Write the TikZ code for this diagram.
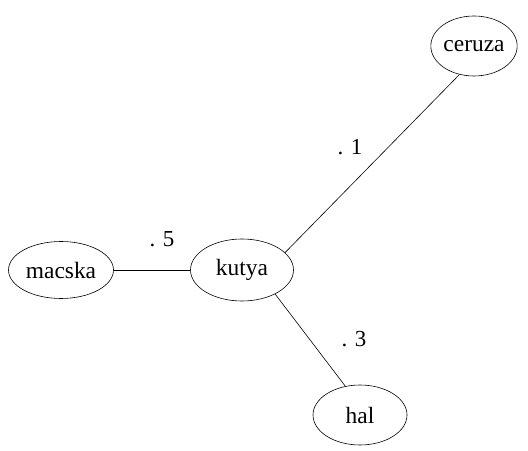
\documentclass[tikz,border=0pt]{standalone}
\usepackage{fontspec}
\setmainfont{Liberation Serif}
\usetikzlibrary{shapes.geometric}
\begin{document}
\begin{tikzpicture}[x=1bp,y=-1bp,
  term/.style={draw,ellipse,line width=0.6bp,inner sep=0pt,font=\fontsize{23.5}{25}\selectfont},
  wlabel/.style={font=\fontsize{23}{25}\selectfont,inner sep=0pt},
  edge/.style={line width=0.6bp}]
\useasboundingbox (0,0) rectangle (528,451);
\node[term,minimum width=86bp,minimum height=60bp] (ceruza) at (474,46) {ceruza};
\node[term,minimum width=103bp,minimum height=62bp] (kutya) at (242,270) {kutya};
\node[term,minimum width=105bp,minimum height=57bp] (macska) at (61,270) {macska};
\node[term,minimum width=94bp,minimum height=60bp] (hal) at (360,415) {hal};
\node[wlabel] (l1) at (350,147) {.\,\,1};
\node[wlabel] (l5) at (162,239) {.\,\,5};
\node[wlabel] (l3) at (354,339) {.\,\,3};
\draw[edge] (ceruza.243) -- (kutya.22);
\draw[edge] (macska) -- (kutya);
\draw[edge] (kutya.-36) -- (hal.117);
\end{tikzpicture}
\end{document}
